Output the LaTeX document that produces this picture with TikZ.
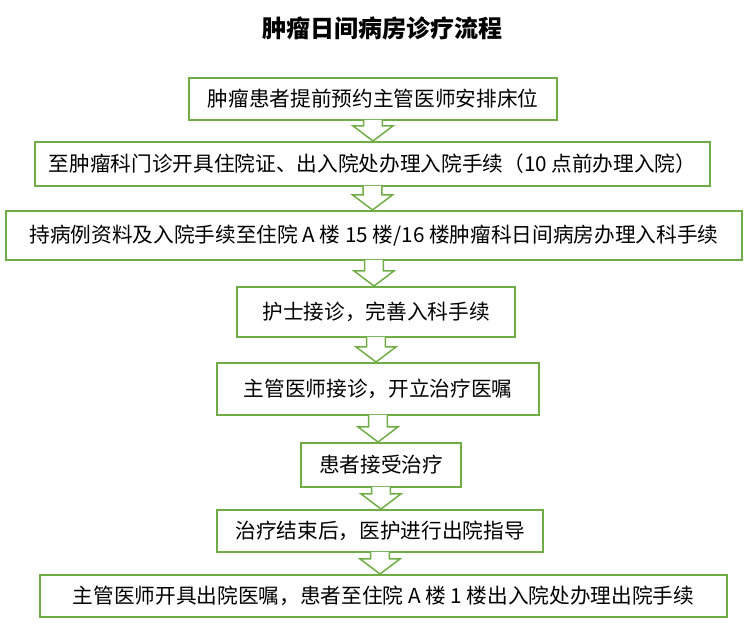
\documentclass[tikz,border=0pt]{standalone}
\usepackage{fontspec}
\setmainfont{Noto Sans CJK SC}
\usetikzlibrary{calc}
\definecolor{boxgreen}{HTML}{70AD47}

% block arrow from the bottom of one box to the top of the next
\newcommand{\flowarrow}[2]{%
  \draw[blockarr] let \p1=(#1.south), \p2=(#2.north) in
    (\x1-7.1pt,\y1+0.9pt) -- (\x1-7.1pt,\y2+11.3pt) -- (\x1-15pt,\y2+11.3pt) --
    (\x1,\y2) -- (\x1+15pt,\y2+11.3pt) -- (\x1+7.1pt,\y2+11.3pt) -- (\x1+7.1pt,\y1+0.9pt);}

\begin{document}
\begin{tikzpicture}[x=0.75pt,y=-0.75pt,
    stepbox/.style={draw=boxgreen, line width=1.5pt, fill=white, inner sep=0pt,
      font=\fontsize{15.5pt}{18pt}\selectfont},
    blockarr/.style={draw=boxgreen, line width=1.1pt, fill=white, line join=miter}]
  \useasboundingbox (0,0) rectangle (748,630);
  \node[font=\fontsize{18pt}{21pt}\selectfont\bfseries] (title) at (382,28) {肿瘤日间病房诊疗流程};

  \node[stepbox, minimum width=276pt, minimum height=31.5pt] (book) at (373,99)
    {肿瘤患者提前预约主管医师安排床位};
  \node[stepbox, minimum width=506pt, minimum height=33pt] (clinic) at (372.5,164)
    {至肿瘤科门诊开具住院证、出入院处办理入院手续（10 点前办理入院）};
  \node[stepbox, minimum width=552pt, minimum height=36.8pt] (ward) at (374,235.5)
    {持病例资料及入院手续至住院 A 楼 15 楼/16 楼肿瘤科日间病房办理入科手续};
  \node[stepbox, minimum width=208.5pt, minimum height=37.5pt] (nurse) at (376,312)
    {护士接诊，完善入科手续\hspace{0.7em}};
  \node[stepbox, minimum width=241.5pt, minimum height=39pt] (doctor) at (378,389)
    {主管医师接诊，开立治疗医嘱};
  \node[stepbox, minimum width=120pt, minimum height=33pt] (treat) at (381,465)
    {患者接受治疗};
  \node[stepbox, minimum width=244.5pt, minimum height=31.5pt] (guide) at (380,531)
    {治疗结束后，医护进行出院指导};
  \node[stepbox, minimum width=515pt, minimum height=31.5pt] (leave) at (383.5,596)
    {主管医师开具出院医嘱，患者至住院 A 楼 1 楼出入院处办理出院手续};

  \flowarrow{book}{clinic}
  \flowarrow{clinic}{ward}
  \flowarrow{ward}{nurse}
  \flowarrow{nurse}{doctor}
  \flowarrow{doctor}{treat}
  \flowarrow{treat}{guide}
  \flowarrow{guide}{leave}
\end{tikzpicture}
\end{document}
